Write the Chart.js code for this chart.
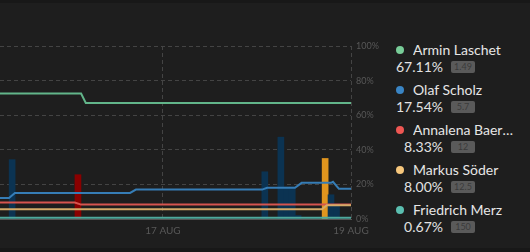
<!DOCTYPE html>
<html>
<head>
<meta charset="utf-8">
<script src="https://cdn.jsdelivr.net/npm/chart.js@4.4.1/dist/chart.umd.min.js"></script>
<style>
  html, body { margin: 0; padding: 0; }
  body { width: 530px; height: 252px; background: #1e1e1e; position: relative; overflow: hidden; font-family: Lato, "Open Sans", sans-serif; }
  .band-top { position: absolute; left: 0; top: 0; width: 530px; height: 3px; background: #181818; }
  .band-bottom { position: absolute; left: 0; top: 248px; width: 530px; height: 4px; background: #181818; }
  .chart-box { position: absolute; left: 0; top: 0; width: 390px; height: 252px; }
  .legend { position: absolute; left: 390px; top: 0; width: 140px; height: 252px; }
  .entry { position: absolute; left: 0; width: 140px; height: 40px; }
  .dot { position: absolute; left: 6px; top: 6px; width: 8px; height: 8px; border-radius: 50%; }
  .name { position: absolute; left: 23px; top: 0; width: 105px; font-size: 14px; line-height: 20px; color: #e6e6e6; white-space: nowrap; overflow: hidden; text-overflow: ellipsis; }
  .share { position: absolute; right: 87px; top: 17px; font-size: 14px; line-height: 20px; color: #e2e2e2; white-space: nowrap; }
  .odds { position: absolute; left: 61px; top: 21px; width: 24px; height: 12px; border-radius: 2px; background: #5a5a5a; color: #3a3a3a; font-size: 9px; line-height: 12px; text-align: center; }
</style>
</head>
<body>
<div class="band-top"></div>
<div class="band-bottom"></div>
<div class="chart-box"><canvas id="chart" width="390" height="252"></canvas></div>
<div class="legend" id="legend"></div>
<script>
// x values are hours relative to 17 Aug 00:00
const X_MIN = -41.6;
const X_MAX = 48;
const tickHours = [0, 48];
const tickLabels = ['17 AUG', '19 AUG'];

const names = ['Armin Laschet', 'Olaf Scholz', 'Annalena Baerbock', 'Markus Söder', 'Friedrich Merz'];
const shares = [67.11, 17.54, 8.33, 8.00, 0.67];
const odds = ['1.49', '5.7', '12', '12.5', '150'];
const lineColors = ['#62b58a', '#367db6', '#d6544f', '#d4aa68', '#4ea89c'];
const dotColors = ['#78cc98', '#3a85c5', '#ef5753', '#f6c77c', '#5bbfb0'];

// probability lines (change points)
const arminHours = [X_MIN, -20.9, -19.7, X_MAX];
const arminValues = [72.5, 72.5, 67.11, 67.11];
const olafHours = [X_MIN, -39.3, -37.8, -8.4, -6.9, 25.3, 26.6, 33.7, 35.4, 42.9, 43.4, 44.9, X_MAX];
const olafValues = [12.2, 12.2, 15.1, 15.1, 17.0, 17.0, 18.0, 18.0, 20.9, 20.9, 21.5, 17.54, 17.54];
const annalenaHours = [X_MIN, -22.5, -20.9, X_MAX];
const annalenaValues = [9.5, 9.5, 8.33, 8.33];
const markusHours = [X_MIN, 40.6, 41.8, X_MAX];
const markusValues = [5.7, 5.7, 8.0, 8.0];
const friedrichHours = [X_MIN, X_MAX];
const friedrichValues = [0.67, 0.67];

// volume bars
const olafBarHours = [-38.5, 26.0, 30.1, 31.6, 33.0, 34.5, 42.9, 44.3];
const olafBarValues = [34.3, 27.3, 47.3, 18.5, 18.5, 2.0, 14.0, 8.7];
const annalenaBarHours = [-21.7];
const annalenaBarValues = [25.6];
const markusBarHours = [41.4];
const markusBarValues = [35.0];

function points(hours, values) {
  return hours.map((h, i) => ({ x: h, y: values[i] }));
}

function lineSet(label, hours, values, color) {
  return {
    type: 'line', label: label, data: points(hours, values),
    borderColor: color, borderWidth: 2, pointRadius: 0, tension: 0, order: 1
  };
}

function barSet(label, hours, values, color) {
  return {
    type: 'bar', label: label, data: points(hours, values),
    backgroundColor: color, barThickness: 6, grouped: false, order: 2
  };
}

const tickColor = '#585858';

new Chart(document.getElementById('chart'), {
  data: {
    datasets: [
      barSet('Olaf vol', olafBarHours, olafBarValues, '#0b3352'),
      barSet('Annalena vol', annalenaBarHours, annalenaBarValues, '#8a0000'),
      barSet('Markus vol', markusBarHours, markusBarValues, '#e0951e'),
      lineSet(names[4], friedrichHours, friedrichValues, lineColors[4]),
      lineSet(names[3], markusHours, markusValues, lineColors[3]),
      lineSet(names[2], annalenaHours, annalenaValues, lineColors[2]),
      lineSet(names[1], olafHours, olafValues, lineColors[1]),
      lineSet(names[0], arminHours, arminValues, lineColors[0])
    ]
  },
  options: {
    responsive: false,
    animation: false,
    layout: { padding: { top: 46, left: 0, right: 0, bottom: 0 } },
    plugins: { legend: { display: false }, tooltip: { enabled: false } },
    scales: {
      x: {
        type: 'linear', min: X_MIN, max: X_MAX, offset: false,
        afterBuildTicks: (scale) => { scale.ticks = tickHours.map(v => ({ value: v })); },
        afterFit: (scale) => { scale.height = 33; },
        ticks: {
          color: tickColor, font: { family: 'Lato', size: 10 }, padding: 6, maxRotation: 0,
          callback: (v) => tickLabels[tickHours.indexOf(v)]
        },
        grid: { color: '#444', drawTicks: false, offset: false },
        border: { display: true, color: '#555', width: 1, dash: [4, 3] }
      },
      y: {
        position: 'right', min: 0, max: 100,
        afterFit: (scale) => { scale.width = 39; },
        ticks: {
          stepSize: 20, color: tickColor, font: { family: 'Lato', size: 9 }, padding: 5,
          callback: (v) => v + '%'
        },
        grid: { color: '#444', drawTicks: false },
        border: { display: false, dash: [4, 3] }
      }
    }
  }
});

// custom legend
const legend = document.getElementById('legend');
names.forEach((name, i) => {
  const entry = document.createElement('div');
  entry.className = 'entry';
  entry.style.top = (40 + i * 40) + 'px';
  entry.innerHTML =
    '<div class="dot" style="background:' + dotColors[i] + '"></div>' +
    '<div class="name">' + name + '</div>' +
    '<div class="share">' + shares[i].toFixed(2) + '%</div>' +
    '<div class="odds">' + odds[i] + '</div>';
  legend.appendChild(entry);
});
</script>
</body>
</html>
